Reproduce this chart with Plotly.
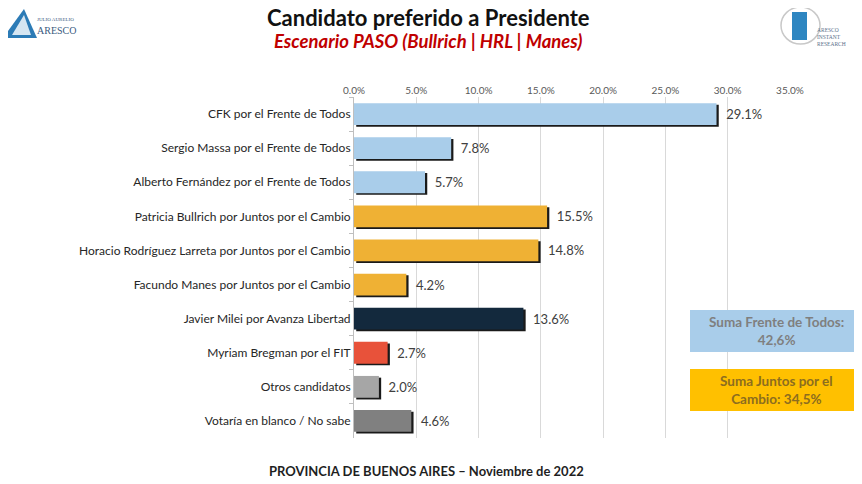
import plotly.graph_objects as go

candidatos = [
    "CFK por el Frente de Todos",
    "Sergio Massa por el Frente de Todos",
    "Alberto Fernández por el Frente de Todos",
    "Patricia Bullrich por Juntos por el Cambio",
    "Horacio Rodríguez Larreta por Juntos por el Cambio",
    "Facundo Manes por Juntos por el Cambio",
    "Javier Milei por Avanza Libertad",
    "Myriam Bregman por el FIT",
    "Otros candidatos",
    "Votaría en blanco / No sabe",
]
porcentajes = [29.1, 7.8, 5.7, 15.5, 14.8, 4.2, 13.6, 2.7, 2.0, 4.6]
etiquetas = ["29.1%", "7.8%", "5.7%", "15.5%", "14.8%", "4.2%", "13.6%", "2.7%", "2.0%", "4.6%"]
tick_vals = [0, 5, 10, 15, 20, 25, 30, 35]
tick_text = ["0.0%", "5.0%", "10.0%", "15.0%", "20.0%", "25.0%", "30.0%", "35.0%"]

colores = ["#A9CDEA", "#A9CDEA", "#A9CDEA", "#EFB134", "#EFB134", "#EFB134",
           "#13293D", "#E8523A", "#A6A6A6", "#808080"]

fuente = "Lato, 'Open Sans', sans-serif"

# la pagina deja 8px de margen en el body: se compensa en el tamano
PL, PR, PT, PB = 354, 790, 97, 438


def px(X, Y):
    # pixel de la pagina -> coordenadas paper
    return (X - PL) / (PR - PL), (PB - Y) / (PB - PT)


fig = go.Figure()

# sombra
fig.add_trace(go.Bar(
    y=candidatos, x=porcentajes, base=0.18, orientation="h",
    marker=dict(color="#1a1a1a", line=dict(width=0)),
    width=0.64, offset=-0.27, hoverinfo="skip", showlegend=False,
))
fig.add_trace(go.Bar(
    y=candidatos, x=porcentajes, orientation="h",
    marker=dict(color=colores, line=dict(width=0)),
    width=0.64, offset=-0.32,
    text=etiquetas, texttemplate="  %{text}", textposition="outside", cliponaxis=False,
    textfont=dict(size=13, color="#404040", family=fuente),
    showlegend=False,
))

fig.update_layout(
    width=854, height=476,
    margin=dict(l=PL - 8, r=862 - PR, t=PT - 8, b=484 - PB),
    paper_bgcolor="white", plot_bgcolor="white",
    barmode="overlay",
    font=dict(family=fuente, color="#262626"),
    xaxis=dict(
        side="top", range=[0, 35], tickvals=tick_vals, ticktext=tick_text,
        showgrid=True, gridcolor="#D9D9D9", gridwidth=1,
        zeroline=False, showline=False, ticks="",
        tickfont=dict(size=10, color="#595959"),
    ),
    yaxis=dict(
        autorange="reversed", showline=True, linecolor="#BFBFBF", linewidth=1,
        ticks="outside", tickson="boundaries", ticklen=4, tickcolor="#BFBFBF",
        tickfont=dict(size=12, color="#262626"), showgrid=False,
    ),
)

textos = [
    dict(text="<b>Candidato preferido a Presidente</b>", x=428, y=17, size=22, color="#111111"),
    dict(text="<b><i>Escenario PASO (Bullrich | HRL | Manes)</i></b>", x=428, y=41, size=18.5, color="#C00000"),
    dict(text="<b>PROVINCIA DE BUENOS AIRES – Noviembre de 2022</b>", x=426, y=471, size=13, color="#1F1F1F"),
    dict(text="<b>Suma Frente de Todos:<br>42,6%</b>", x=776, y=331, size=13.5, color="#7F7F7F"),
    dict(text="<b>Suma Juntos por el<br>Cambio: 34,5%</b>", x=776, y=390, size=13.5, color="#8C6D1F"),
]

# cajas de resumen
for y0, y1, color in [(310, 352, "#A9CDEA"), (369, 411, "#FFC000")]:
    x0p, y0p = px(690, y0)
    x1p, y1p = px(866, y1)
    fig.add_shape(type="rect", xref="paper", yref="paper", x0=x0p, y0=y1p, x1=x1p, y1=y0p,
                  fillcolor=color, line=dict(width=0), layer="above")

for a in textos:
    xp, yp = px(a["x"], a["y"])
    fig.add_annotation(
        text=a["text"], x=xp, y=yp, xref="paper", yref="paper",
        xanchor="center", yanchor="middle", showarrow=False,
        font=dict(size=a["size"], color=a["color"], family=fuente),
    )

# logo izquierdo
fig.add_shape(type="path", xref="paper", yref="paper",
              path="M {} {} L {} {} L {} {} Z".format(*px(3, 38), *px(24, 9), *px(37, 38)),
              fillcolor="#2C7BB6", line=dict(width=0), layer="above")
fig.add_shape(type="path", xref="paper", yref="paper",
              path="M {} {} L {} {} L {} {} Z".format(*px(12, 35), *px(24, 15), *px(31, 35)),
              fillcolor="#D6E6F2", line=dict(width=0), layer="above")
for texto, y, size in [("JULIO AURELIO", 15, 5), ("ARESCO", 23, 10)]:
    xp, yp = px(35, y)
    fig.add_annotation(text=texto, x=xp, y=yp, xref="paper", yref="paper",
                       xanchor="left", showarrow=False,
                       font=dict(size=size, color="#3a5a80", family="Liberation Serif"))

# logo derecho
cx0, cy0 = px(781, 7)
cx1, cy1 = px(820, 44)
fig.add_shape(type="circle", xref="paper", yref="paper", x0=cx0, y0=cy1, x1=cx1, y1=cy0,
              fillcolor="white", line=dict(color="#C8C8C8", width=1.5), layer="above")
rx0, ry0 = px(792, 12)
rx1, ry1 = px(807, 40)
fig.add_shape(type="rect", xref="paper", yref="paper", x0=rx0, y0=ry1, x1=rx1, y1=ry0,
              fillcolor="#2E86C1", line=dict(width=0), layer="above")
xp, yp = px(815, 25)
fig.add_annotation(text="ARESCO<br>INSTANT<br>RESEARCH", x=xp, y=yp, xref="paper", yref="paper",
                   xanchor="left", showarrow=False, align="left",
                   font=dict(size=5.5, color="#5a6f8a", family="Liberation Serif"))

fig.write_html("out.html")
